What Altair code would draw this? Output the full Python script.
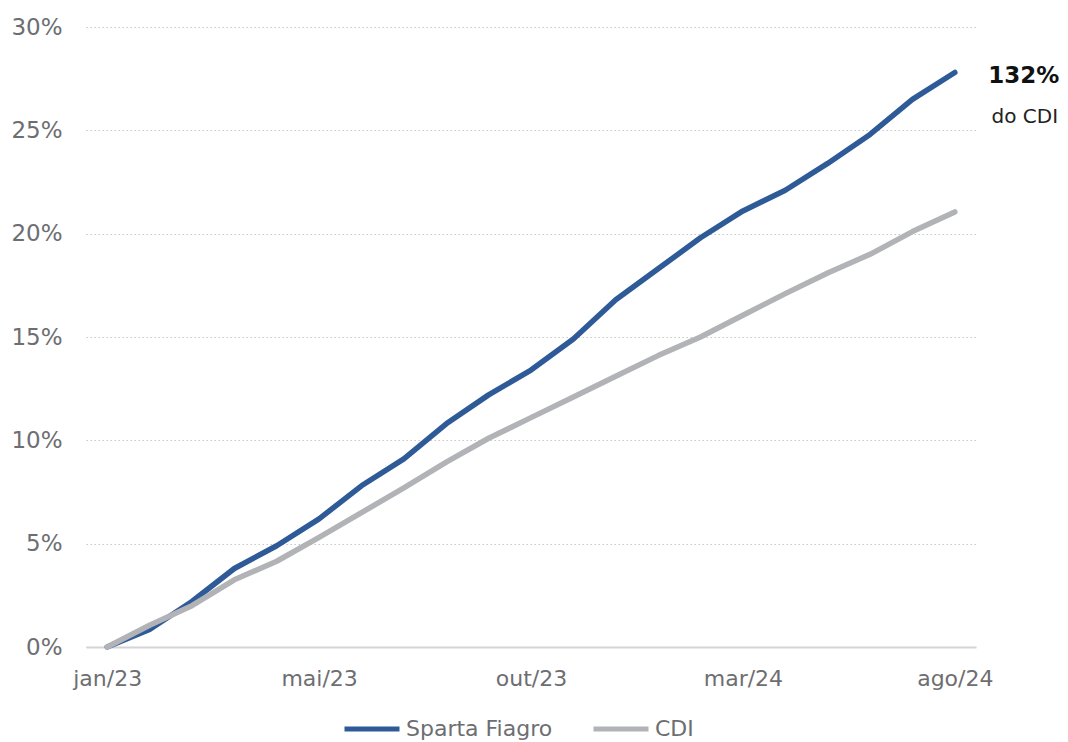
import altair as alt
import pandas as pd

# ---- data ----
periods = list(range(21))  # start point + jan/23 .. ago/24 (monthly)
tick_positions = [0, 5, 10, 15, 20]
tick_labels = ["jan/23", "mai/23", "out/23", "mar/24", "ago/24"]
sparta = [0, 0.85, 2.2, 3.8, 4.9, 6.2, 7.8, 9.1, 10.8, 12.2, 13.4, 14.9, 16.8,
          18.3, 19.8, 21.1, 22.1, 23.4, 24.8, 26.5, 27.8]
cdi = [0, 1.05, 2.0, 3.25, 4.15, 5.3, 6.5, 7.7, 8.95, 10.1, 11.1, 12.1, 13.1,
       14.1, 15.0, 16.05, 17.1, 18.1, 19.0, 20.1, 21.05]
series_names = ["Sparta Fiagro", "CDI"]
series_colors = ["#2E5B98", "#B2B3B7"]
annotation_big = "132%"
annotation_small = "do CDI"

FONT = "DejaVu Sans"
GREY = "#6d6e71"

df = pd.concat([
    pd.DataFrame({"i": periods, "v": sparta, "s": series_names[0]}),
    pd.DataFrame({"i": periods, "v": cdi, "s": series_names[1]}),
])

label_expr = " : ".join(
    f"datum.value == {p} ? '{l}'" for p, l in zip(tick_positions, tick_labels)
) + " : ''"

x = alt.X("i:Q",
          scale=alt.Scale(domain=[-0.5, 20.5], nice=False, zero=False),
          axis=alt.Axis(values=tick_positions, labelExpr=label_expr, title=None,
                        grid=False, ticks=False, domain=True, domainColor="#d4d4d4",
                        domainWidth=2, labelFont=FONT, labelFontSize=22,
                        labelColor=GREY, labelPadding=21, labelFlush=False))
y = alt.Y("v:Q",
          scale=alt.Scale(domain=[0, 30], nice=False),
          axis=alt.Axis(values=[0, 5, 10, 15, 20, 25, 30],
                        labelExpr="datum.value + '%'", title=None, grid=True,
                        gridColor="#c8c8c8", gridDash=[1.5, 2.5], gridWidth=1.2,
                        ticks=False, domain=False, labelFont=FONT,
                        labelFontSize=23, labelColor=GREY, labelPadding=24))

lines = alt.Chart(df).mark_line(strokeWidth=5.5, strokeCap="round",
                                strokeJoin="round").encode(
    x=x, y=y,
    color=alt.Color("s:N",
                    scale=alt.Scale(domain=series_names, range=series_colors),
                    sort=series_names,
                    legend=alt.Legend(title=None, orient="none", direction="horizontal",
                                      legendX=256, legendY=672,
                                      symbolType="stroke", symbolSize=3025,
                                      symbolStrokeWidth=5, labelFont=FONT,
                                      labelFontSize=22, labelColor=GREY,
                                      labelOffset=4, columnPadding=30)),
)

ann_df = pd.DataFrame({"i": [periods[-1]], "v": [sparta[-1]],
                       "big": [annotation_big], "small": [annotation_small]})
big = alt.Chart(ann_df).mark_text(font=FONT, fontSize=23, fontWeight="bold",
                                  color="#111111", dx=69, dy=4,
                                  align="center", baseline="middle").encode(
    x=alt.X("i:Q"), y=alt.Y("v:Q"), text="big:N")
small = alt.Chart(ann_df).mark_text(font=FONT, fontSize=20, color="#222222",
                                    dx=70, dy=45, align="center",
                                    baseline="middle").encode(
    x=alt.X("i:Q"), y=alt.Y("v:Q"), text="small:N")

chart = alt.layer(lines, big, small).properties(
    width=890, height=620,
    autosize=alt.AutoSizeParams(type="none"),
    padding={"left": 78, "top": 19, "right": 84, "bottom": 95},
).configure_view(stroke=None)

chart.save("out.html", embed_options={"renderer": "svg", "actions": False})
